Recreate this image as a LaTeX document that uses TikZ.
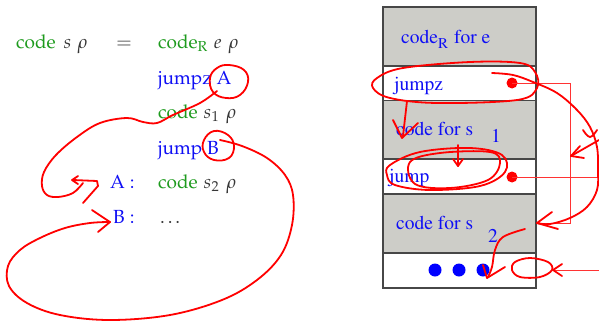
\documentclass[tikz,border=0pt]{standalone}
\usepackage[T1]{fontenc}
\usepackage{mathpazo}
\definecolor{cgreen}{RGB}{30,155,30}
\definecolor{cblue}{RGB}{15,15,245}
\definecolor{mgray}{RGB}{55,55,55}
\definecolor{boxgray}{RGB}{205,205,200}
\definecolor{pen}{RGB}{255,0,0}
\tikzset{
  lt/.style={anchor=base west, inner sep=0pt, font=\fontsize{19}{23}\selectfont},
  rt/.style={anchor=base west, inner sep=0pt, text=cblue, font=\fontfamily{ptm}\fontsize{19.5}{23}\selectfont},
  cellg/.style={draw=black!72, line width=1.1pt, fill=boxgray, minimum width=153pt, minimum height=59pt, inner sep=0pt},
  cellw/.style={draw=black!72, line width=1.1pt, fill=white, minimum width=153pt, minimum height=35pt, inner sep=0pt},
  reddot/.style={circle, fill=pen, minimum size=11pt, inner sep=0pt},
  bluedot/.style={circle, fill=blue, minimum size=13pt, inner sep=0pt},
  fh/.style={draw=pen, line width=1.8pt, line cap=round, line join=round},
  thinline/.style={draw=pen!80, line width=0.8pt},
}
\begin{document}
\begin{tikzpicture}[x=1pt,y=-1pt]
\useasboundingbox (0,0) rectangle (599,324);
% ---------- left program text ----------
\node[lt] (l1) at (16,48) {\textcolor{cgreen}{code}\hspace{8pt}\textcolor{mgray}{$s\hspace{6pt}\rho$}};
\node[lt] (eq) at (116,48) {\textcolor{mgray}{$=$}};
\node[lt] (r1) at (158,48) {\textcolor{cgreen}{code$_{\mathrm{R}}$}\hspace{6pt}\textcolor{mgray}{$e\hspace{7pt}\rho$}};
\node[lt] (r2) at (158,84) {\textcolor{cblue}{jumpz A}};
\node[lt] (r3) at (158,118) {\textcolor{cgreen}{code}\hspace{6pt}\textcolor{mgray}{$s_1\hspace{7pt}\rho$}};
\node[lt] (r4) at (158,154) {\textcolor{cblue}{jump B}};
\node[lt] (la) at (110,188) {\textcolor{cblue}{A\hspace{5pt}:}};
\node[lt] (r5) at (158,188) {\textcolor{cgreen}{code}\hspace{6pt}\textcolor{mgray}{$s_2\hspace{7pt}\rho$}};
\node[lt] (lb) at (113,223) {\textcolor{cblue}{B\hspace{5pt}:}};
\node[lt] (r6) at (160,223) {\textcolor{mgray}{\dots}};
% ---------- right memory layout ----------
\node[cellg] (c1) at (459.5,36.5) {};
\node[cellw] (c2) at (459.5,83.5) {};
\node[cellg] (c3) at (459.5,130) {};
\node[cellw] (c4) at (459.5,176.5) {};
\node[cellg] (c5) at (459.5,223.5) {};
\node[cellw] (c6) at (459.5,270.5) {};
\node[rt] (t1) at (401,43) {code\raisebox{-0.3em}{\fontsize{15}{15}\selectfont R}\hspace{6pt}for e};
\node[rt] (t2) at (394,90) {jumpz};
\node[rt] (t3) at (396,135) {code for s};
\node[rt] (n1) at (491,142) {1};
\node[rt] (t4) at (389,182) {jump};
\node[rt] (t5) at (396,229) {code for s};
\node[rt] (n2) at (488,242) {2};
\node[bluedot] (b1) at (435,270) {};
\node[bluedot] (b2) at (459,270) {};
\node[bluedot] (b3) at (483,270) {};
\node[reddot] (d1) at (512,83) {};
\node[reddot] (d2) at (512,177) {};
\coordinate (k1) at (570,83);
\coordinate (k2) at (570,223);
\coordinate (k3) at (537,223);
\coordinate (e1) at (599,177);
\coordinate (e2) at (599,270);
\coordinate (e3) at (553,270);
\draw[thinline] (d1.center) -- (k1) -- (k2) -- (k3);
\draw[thinline] (d2.center) -- (e1);
\draw[thinline] (e2) -- (e3);
% ---------- freehand annotations, left ----------
\draw[fh] plot[smooth cycle, tension=0.7] coordinates {(229,65) (244,70) (248,82) (240,95) (226,98) (213,92) (210,78) (217,68)};
\draw[fh] plot[smooth, tension=0.6] coordinates {(217,91) (200,103) (173,115) (157,123) (143,122) (127,118) (100,123) (77,137) (56,155) (44,172) (42,186) (47,195) (58,197) (73,193) (83,183)};
\draw[fh] (73,180) -- (97,181) -- (98,186) -- (83,203);
\draw[fh] (78,176) -- (72,180) -- (78,184);
\draw[fh] plot[smooth cycle, tension=0.7] coordinates {(214,131) (228,135) (234,146) (229,158) (214,160) (204,152) (204,140)};
\draw[fh] plot[smooth, tension=0.6] coordinates {(220,140) (242,146) (267,158) (285,175) (293,195) (292,225) (281,255) (257,280) (222,300) (170,315) (110,320) (60,315) (27,303) (9,286) (8,266) (20,250) (40,238) (65,228) (90,223) (110,222)};
\draw[fh] (92,210) -- (110,222) -- (98,232);
% ---------- freehand annotations, right ----------
\draw[fh] plot[smooth cycle, tension=0.6] coordinates {(377,78) (403,68) (470,62) (520,63) (535,72) (537,88) (517,100) (437,103) (390,98) (373,88)};
\draw[fh] plot[smooth, tension=0.6] coordinates {(492,73) (513,75) (533,82) (557,93) (577,110) (590,127) (597,147) (598,170) (597,190) (587,207) (570,218) (550,224) (537,223)};
\draw[fh] (552,212) -- (537,223) -- (558,229);
\draw[fh] plot[smooth, tension=0.7] coordinates {(583,130) (590,137) (597,130)};
\draw[fh] (599,140) -- (571,156);
\draw[fh] (580,146) -- (571,156) -- (584,158);
\draw[fh] (407,101) -- (403,136);
\draw[fh] (393,120) -- (402,138) -- (418,123);
\draw[fh] plot[smooth cycle, tension=0.6] coordinates {(390,165) (420,152) (470,148) (502,155) (505,172) (480,186) (430,190) (395,185) (387,175)};
\draw[fh] plot[smooth cycle, tension=0.6] coordinates {(410,162) (440,153) (490,152) (500,163) (488,180) (450,188) (415,184)};
\draw[fh] (458,145) -- (458,166);
\draw[fh] (453,159) -- (458,166) -- (463,159);
\draw[fh] plot[smooth, tension=0.6] coordinates {(525,229) (503,237) (495,250) (492,267) (488,277)};
\draw[fh] (483,265) -- (487,278) -- (505,267);
\draw[fh] plot[smooth cycle, tension=0.6] coordinates {(515,262) (530,258) (548,262) (552,270) (540,277) (520,277) (512,270)};
\draw[fh] (562,264) -- (553,270) -- (562,276);
\end{tikzpicture}
\end{document}
